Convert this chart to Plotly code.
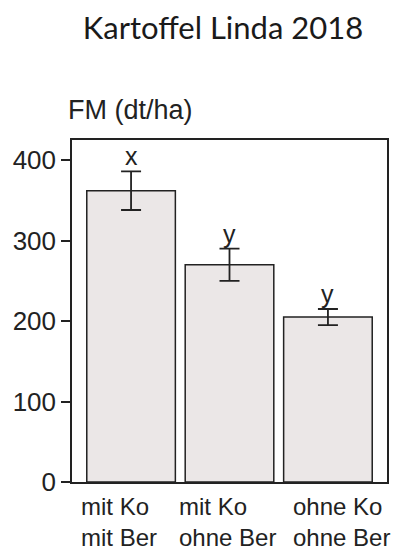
import plotly.graph_objects as go

# Treatment groups and measured fresh mass (dt/ha)
groups = ["mit Ko<br>mit Ber", "mit Ko<br>ohne Ber", "ohne Ko<br>ohne Ber"]
means = [362, 270, 205]
errors = [24, 20, 10]
letters = ["x", "y", "y"]
y_ticks = [0, 100, 200, 300, 400]

label_shift = [-12, -2, 14]

FONT = "Arial, Liberation Sans, sans-serif"
INK = "#222222"

x_pos = list(range(len(groups)))

fig = go.Figure()
fig.add_trace(go.Bar(
    x=x_pos,
    y=means,
    width=0.9,
    marker=dict(color="#ebe7e7", line=dict(color=INK, width=1.5)),
    error_y=dict(type="data", array=errors, visible=True,
                 color=INK, thickness=1.8, width=10),
    showlegend=False,
))

# significance letters above the error bars
for xi, m, e, lt in zip(x_pos, means, errors, letters):
    fig.add_annotation(x=xi, y=m + e, text=lt, showarrow=False,
                       xref="x", yref="y", yanchor="bottom", yshift=-1,
                       font=dict(family=FONT, size=25, color=INK))

# category labels below the axis, left-aligned lines
for xi, g, sh in zip(x_pos, groups, label_shift):
    fig.add_annotation(x=xi, y=0, text=g, showarrow=False,
                       xref="x", yref="paper", yanchor="top", xanchor="center",
                       align="left", xshift=sh, yshift=-9,
                       font=dict(family=FONT, size=24, color=INK))

# axis title above the plot area
fig.add_annotation(x=0, y=1, xref="paper", yref="paper", text="FM (dt/ha)",
                   showarrow=False, xanchor="left", yanchor="bottom",
                   xshift=-6, yshift=13,
                   font=dict(family=FONT, size=27, color=INK))

fig.update_layout(
    width=402, height=551,
    margin=dict(l=72, r=15, t=140, b=69),
    paper_bgcolor="white", plot_bgcolor="white",
    title=dict(text="Kartoffel Linda 2018", x=223 / 402, xanchor="center",
               y=1 - 28 / 551, yanchor="middle",
               font=dict(family="Lato, sans-serif", size=31, color="#1a1a1a")),
    bargap=0.1,
)
fig.update_xaxes(range=[-0.6, 2.6], showticklabels=False, ticks="",
                 showgrid=False, zeroline=False,
                 showline=True, mirror=True, linecolor=INK, linewidth=1.5)
fig.update_yaxes(range=[0, 425], tickvals=y_ticks, ticks="outside", ticklen=9,
                 tickwidth=1.5, tickcolor=INK, showgrid=False, zeroline=False,
                 showline=True, mirror=True, linecolor=INK, linewidth=1.5,
                 tickfont=dict(family=FONT, size=26, color=INK))

fig.write_html("out.html")
